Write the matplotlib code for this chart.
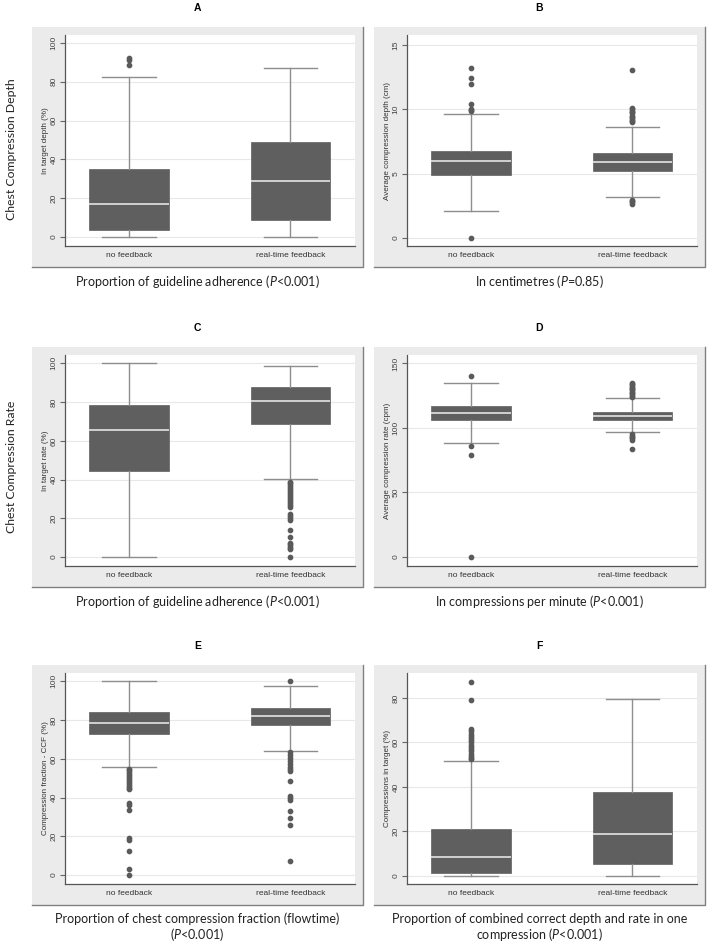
import matplotlib
matplotlib.use("Agg")
import matplotlib.pyplot as plt
from matplotlib.patches import Rectangle
from matplotlib.lines import Line2D

plt.rcParams['mathtext.fontset'] = 'custom'
plt.rcParams['mathtext.rm'] = 'Lato'
plt.rcParams['mathtext.it'] = 'Lato:italic'

W, H = 709, 946

groups = ["no feedback", "real-time feedback"]

# A - in target depth (%)
a_low = [0, 0]
a_q1 = [3.5, 9]
a_med = [16.8, 28.7]
a_q3 = [35, 48.8]
a_high = [82.5, 87]
a_out_nf = [88.5, 91, 92]
a_out_rt = []

# B - average compression depth (cm)
b_low = [2.1, 3.2]
b_q1 = [4.92, 5.2]
b_med = [6.0, 5.87]
b_q3 = [6.78, 6.57]
b_high = [9.62, 8.62]
b_out_nf = [0, 9.85, 9.95, 10.05, 10.45, 11.95, 12.45, 13.25]
b_out_rt = [2.65, 2.75, 2.85, 2.95, 9.0, 9.1, 9.2, 9.3, 9.4, 9.5, 9.7, 9.8, 9.9, 10.0, 10.1, 13.1]

# C - in target rate (%)
c_low = [0, 40.3]
c_q1 = [44.3, 68.7]
c_med = [65.4, 80.5]
c_q3 = [78.7, 88]
c_high = [100, 98.8]
c_out_nf = []
c_out_rt = [0, 4, 4.5, 5.5, 6.5, 7.5, 10.5, 14, 19, 20, 21, 22, 26, 27, 28, 29,
            30, 31, 32, 33, 34, 35, 36, 37, 38, 39]

# D - average compression rate (cpm)
d_low = [88.4, 96.5]
d_q1 = [106, 106.3]
d_med = [111.2, 109.6]
d_q3 = [117.1, 112.7]
d_high = [134.5, 122.8]
d_out_nf = [0, 79, 86, 140]
d_out_rt = [84, 91, 92, 93, 94, 95, 124, 125, 126, 127, 128, 129, 130, 131,
            132, 133, 134, 135]

# E - compression fraction CCF (%)
e_low = [55.9, 64]
e_q1 = [72.6, 77.3]
e_med = [78.7, 81.9]
e_q3 = [84, 86.1]
e_high = [100, 97.8]
e_out_nf = [0, 3, 12.5, 18, 19, 33.5, 36, 37, 44.5, 45, 46, 47, 48, 49, 50,
            51, 52, 53, 54, 55]
e_out_rt = [7.5, 25.6, 29.7, 33, 39, 40, 41, 48.5, 53.5, 54.5, 56, 57.5, 59,
            60.5, 62, 63.5, 100]

# F - compressions in target (%)
f_low = [0, 0]
f_q1 = [1.0, 5.3]
f_med = [8.5, 18.9]
f_q3 = [21.2, 37.8]
f_high = [51.6, 79.8]
f_out_nf = [52.5, 53, 54, 55, 56, 57, 58, 59, 60, 61, 62, 63, 64, 65, 66,
            79.1, 87.4]
f_out_rt = []

fig = plt.figure(figsize=(W / 100, H / 100), dpi=100)
fig.patch.set_facecolor("white")

row_tops = [27, 347, 665]
col_lefts = [32, 374]
PW, PH = 331, 240


def fx(x):
    return x / W


def fy(y):
    return 1 - y / H


def panel(col, row, letter, low, q1, med, q3, high, out_nf, out_rt,
          ylim, yticks, ylabel, subtitle):
    x0 = col_lefts[col]
    y0 = row_tops[row]
    # grey background panel (Stata style)
    fig.add_artist(Rectangle((fx(x0), fy(y0 + PH)), PW / W, PH / H,
                             transform=fig.transFigure, facecolor="#ebebeb",
                             edgecolor="none", zorder=-2))
    fig.add_artist(Line2D([fx(x0), fx(x0 + PW), fx(x0 + PW)],
                          [fy(y0 + PH), fy(y0 + PH), fy(y0)],
                          transform=fig.transFigure, color="#808080",
                          lw=1.0, zorder=-1))

    ax = fig.add_axes([fx(x0 + 33), fy(y0 + 219), 290 / W, 211 / H])
    ax.set_facecolor("white")

    stats = []
    fliers = [out_nf, out_rt]
    for i in range(2):
        stats.append(dict(whislo=low[i], q1=q1[i], med=med[i], q3=q3[i],
                          whishi=high[i], fliers=fliers[i]))
    ax.bxp(stats, positions=[1, 2], widths=0.49, capwidths=0.33,
           patch_artist=True, showfliers=True,
           boxprops=dict(facecolor="#5f5f5f", edgecolor="#5f5f5f", lw=0.5),
           medianprops=dict(color="#d9d9d9", lw=1.3),
           whiskerprops=dict(color="#8e8e8e", lw=1.0),
           capprops=dict(color="#8e8e8e", lw=1.0),
           flierprops=dict(marker="o", markersize=3.1,
                           markerfacecolor="#5a5a5a",
                           markeredgecolor="#5a5a5a"))

    ax.set_xlim(0.604, 2.40)
    ax.set_ylim(*ylim)
    ax.set_yticks(yticks)
    ax.set_yticklabels([str(t) for t in yticks], rotation=90, va="center",
                       fontsize=6, color="#444444", family="Liberation Sans")
    ax.set_xticks([1, 2])
    ax.set_xticklabels(groups, fontsize=6, color="#333333",
                       family="Liberation Sans")
    ax.tick_params(axis="x", length=0, pad=4)
    ax.tick_params(axis="y", length=3.5, width=0.8, color="#666666", pad=2)
    ax.grid(axis="y", color="#e8e8e8", lw=0.8)
    ax.set_axisbelow(True)
    for s in ["top", "right"]:
        ax.spines[s].set_visible(False)
    for s in ["left", "bottom"]:
        ax.spines[s].set_color("#555555")
        ax.spines[s].set_linewidth(0.9)
    ax.set_ylabel(ylabel, fontsize=5.8, color="#333333",
                  family="Liberation Sans", labelpad=1)

    cx = fx(x0 + PW / 2)
    fig.text(cx, fy(y0 - 19), letter, ha="center", va="center",
             fontsize=7.5, fontweight="bold", family="Liberation Sans")
    for k, line in enumerate(subtitle):
        fig.text(cx, fy(y0 + PH + 14 + 15 * k), line, ha="center",
                 va="center", fontsize=9, family="Lato", color="#222222")
    return ax


panel(0, 0, "A", a_low, a_q1, a_med, a_q3, a_high, a_out_nf, a_out_rt,
      (-4.6, 104.1), [0, 20, 40, 60, 80, 100], "In target depth (%)",
      ["Proportion of guideline adherence ($\\it{P}$<0.001)"])
panel(1, 0, "B", b_low, b_q1, b_med, b_q3, b_high, b_out_nf, b_out_rt,
      (-0.65, 15.8), [0, 5, 10, 15], "Average compression depth (cm)",
      ["In centimetres ($\\it{P}$=0.85)"])
panel(0, 1, "C", c_low, c_q1, c_med, c_q3, c_high, c_out_nf, c_out_rt,
      (-4.6, 104.3), [0, 20, 40, 60, 80, 100], "In target rate (%)",
      ["Proportion of guideline adherence ($\\it{P}$<0.001)"])
panel(1, 1, "D", d_low, d_q1, d_med, d_q3, d_high, d_out_nf, d_out_rt,
      (-7.0, 156.5), [0, 50, 100, 150], "Average compression rate (cpm)",
      ["In compressions per minute ($\\it{P}$<0.001)"])
panel(0, 2, "E", e_low, e_q1, e_med, e_q3, e_high, e_out_nf, e_out_rt,
      (-4.6, 104.3), [0, 20, 40, 60, 80, 100], "Compression fraction - CCF (%)",
      ["Proportion of chest compression fraction (flowtime)",
       "($\\it{P}$<0.001)"])
panel(1, 2, "F", f_low, f_q1, f_med, f_q3, f_high, f_out_nf, f_out_rt,
      (-3.8, 91.3), [0, 20, 40, 60, 80], "Compressions in target (%)",
      ["Proportion of combined correct depth and rate in one",
       "compression ($\\it{P}$<0.001)"])

fig.text(fx(12), fy(149), "Chest Compression Depth", rotation=90,
         ha="center", va="center", fontsize=8.8, family="Lato",
         color="#222222")
fig.text(fx(12), fy(467), "Chest Compression Rate", rotation=90,
         ha="center", va="center", fontsize=8.8, family="Lato",
         color="#222222")

fig.savefig("out.png", dpi=100, facecolor="white")
